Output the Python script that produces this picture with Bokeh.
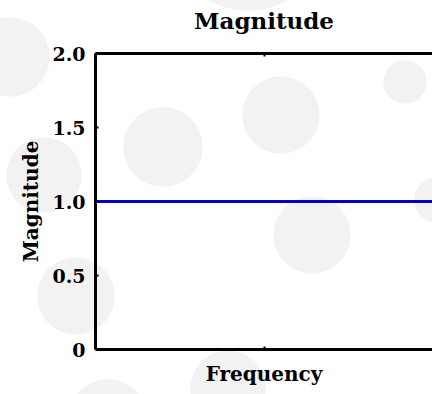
from bokeh.plotting import figure
from bokeh.models import LinearAxis, FixedTicker, Range1d
from bokeh.embed import file_html
from bokeh.resources import INLINE

# ---- data ----
frequency = [0.0, 0.25, 0.5, 0.75, 1.0]
magnitude = [1.0, 1.0, 1.0, 1.0, 1.0]
y_ticks = [0.0, 0.5, 1.0, 1.5, 2.0]
y_tick_labels = ["0", "0.5", "1.0", "1.5", "2.0"]
x_ticks = [0.5]
title_text = "Magnitude"
x_label = "Frequency"
y_label = "Magnitude"

# decorative background circles (picture pixels: cx, cy, r)
bg_circles = [
    (10, 57, 40), (163, 147, 40), (44, 175, 38), (76, 296, 39),
    (108, 419, 40), (228, 388, 38), (281, 115, 39), (405, 82, 22),
    (437, 200, 23), (312, 235, 39), (248, -70, 81),
]

FONT = "DejaVu Serif"
W, H = 432, 394
FL, FT, FB = 95, 53, 349   # frame left / top / bottom (picture px)

p = figure(width=W, height=H, output_backend="svg", toolbar_location=None,
           x_range=Range1d(0, 1), y_range=Range1d(0, 2),
           min_border_left=FL, min_border_right=0, min_border_top=FT,
           min_border_bottom=H - FB)
p.title.text = title_text
p.title.align = "center"
p.title.text_font = FONT
p.title.text_font_style = "bold"
p.title.text_font_size = "23px"
p.title.text_color = "black"
p.title.standoff = 0
p.outline_line_color = None
p.background_fill_color = None
p.border_fill_color = None
p.grid.visible = False

grads = ["radial-gradient(circle %dpx at %dpx %dpx, #f2f2f2 %.1fpx, rgba(242,242,242,0) %dpx)"
         % (r, cx, cy, r - 0.8, r) for (cx, cy, r) in bg_circles]
p.styles = {"background-color": "white",
            "background-image": ", ".join(grads),
            "background-repeat": "no-repeat"}

p.line(frequency, magnitude, line_color="#0000cc", line_width=3)

def style_axis(ax):
    ax.axis_line_width = 3
    ax.axis_line_color = "black"
    ax.major_tick_in = 3
    ax.major_tick_out = 0
    ax.major_tick_line_width = 2
    ax.minor_tick_line_color = None
    ax.major_label_text_font = FONT
    ax.major_label_text_font_style = "bold"
    ax.major_label_text_font_size = "19px"
    ax.major_label_text_color = "black"
    ax.axis_label_text_font = FONT
    ax.axis_label_text_font_style = "bold"
    ax.axis_label_text_font_size = "20px"
    ax.axis_label_text_color = "black"

xa = p.xaxis[0]
style_axis(xa)
xa.ticker = FixedTicker(ticks=x_ticks)
xa.major_label_overrides = {t: "" for t in x_ticks}
xa.major_label_standoff = 0
xa.axis_label = x_label
xa.axis_label_standoff = 12

ya = p.yaxis[0]
style_axis(ya)
ya.ticker = FixedTicker(ticks=y_ticks)
ya.major_label_overrides = dict(zip(y_ticks, y_tick_labels))
ya.major_label_standoff = 10
ya.axis_label = y_label
ya.axis_label_standoff = 6

top = LinearAxis(ticker=FixedTicker(ticks=x_ticks))
style_axis(top)
top.major_label_overrides = {t: "" for t in x_ticks}
top.major_label_standoff = 0
p.add_layout(top, "above")

# invisible spacer between frame and title
spacer = LinearAxis(ticker=FixedTicker(ticks=x_ticks), axis_line_color=None,
                    major_tick_line_color=None, minor_tick_line_color=None,
                    major_tick_in=0, major_tick_out=20, major_label_standoff=0,
                    major_label_overrides={t: "" for t in x_ticks})
p.add_layout(spacer, "above")

open("out.html", "w").write(file_html(p, INLINE))
